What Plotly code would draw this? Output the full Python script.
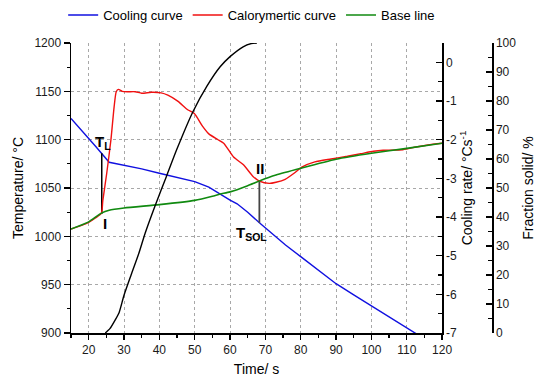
import plotly.graph_objects as go

# ---------------- data ----------------
# Cooling curve (temperature, °C) vs time (s)
cool_t = [15, 18, 20, 22, 25.8, 30, 35, 40, 45, 50, 54, 57, 60, 62, 65, 68.3, 72, 75.7,
          80, 85, 90, 95, 100, 105, 110, 112.3, 113]
cool_T = [1122, 1110, 1101.5, 1093, 1076.6, 1073.8, 1069.8, 1065.3, 1061, 1056.6, 1051, 1044,
          1037.5, 1033.7, 1025, 1014, 1002.5, 991, 979, 965, 951, 939.5, 928, 916.5, 905, 900, 898.5]

# Calorimetric curve (cooling rate, °C/s)
cal_t = [15, 18, 20, 22, 23.6, 24.0, 25.1, 26.3, 27.2, 27.8, 28.4, 29.5, 31, 33.2, 35, 37.8,
         40.5, 42.4, 45.3, 48, 49.9, 52.2, 54, 56.4, 58.2, 61, 63.8, 66.5, 68.3, 71.1, 73,
         75.6, 78.4, 80.3, 84, 88.6, 93.2, 97, 100.6, 103.3, 108.9, 112.6, 116, 120]
cal_r = [-4.31, -4.215, -4.14, -4.02, -3.9, -3.575, -2.875, -2.0, -1.15, -0.76, -0.70, -0.75,
         -0.76, -0.76, -0.80, -0.775, -0.79, -0.85, -1.01, -1.225, -1.325, -1.65, -1.85, -1.99,
         -2.09, -2.45, -2.65, -2.95, -3.07, -3.13, -3.10, -3.025, -2.85, -2.71, -2.575, -2.5,
         -2.43, -2.3625, -2.3, -2.275, -2.26, -2.19, -2.1375, -2.0925]

# Base line (cooling rate, °C/s)
base_t = [15, 20, 23.6, 25.8, 30, 40, 50, 55, 57.2, 60, 65, 68.3, 73, 80, 90, 100, 110, 120]
base_r = [-4.31, -4.125, -3.9, -3.825, -3.7675, -3.68, -3.57, -3.4625, -3.4075, -3.35, -3.19,
          -3.0675, -2.915, -2.74, -2.5075, -2.3525, -2.225, -2.0925]

# Fraction solid (%)
fs_t = [24.7, 26, 27.5, 28.6, 30, 32, 34.2, 36, 38.8, 42, 45, 49.5, 53.5, 57.2, 60, 63.7, 66, 67.6]
fs_v = [0, 1.5, 4.5, 7, 13, 20, 27.5, 34.5, 43.9, 54, 63.5, 76.3, 85.2, 91.8, 95.3, 98.7, 99.8, 100]

# Marker lines (T_L and T_SOL)
tl_x = [23.7, 23.7]
tl_T = [1023.2, 1086]
tsol_x = [68.3, 68.3]
tsol_T = [1014, 1057.3]

# Point labels
label_text = ["<b>T<sub>L</sub></b>", "<b>I</b>", "<b>II</b>", "<b>T<sub>SOL</sub></b>"]
label_x = [24.0, 24.7, 68.6, 66.0]
label_T = [1097, 1012.8, 1070, 1003]

# Axis ticks
x_ticks = [20, 30, 40, 50, 60, 70, 80, 90, 100, 110, 120]
temp_ticks = [900, 950, 1000, 1050, 1100, 1150, 1200]
rate_ticks = [-7, -6, -5, -4, -3, -2, -1, 0]
rate_text = ["-7", "-6", "-5", "-4", "-3", "-2", "-1", "0"]
fs_ticks = [0, 10, 20, 30, 40, 50, 60, 70, 80, 90, 100]

# ---------------- figure ----------------
FONT = "Liberation Sans, Arial, sans-serif"
W, H = 550, 384
ML, MR, MT, MB = 71, 0, 43, 51
pw = W - ML - MR
ph = H - MT - MB
dom_right = (450 - ML) / pw
fs_pos = (501 - ML) / pw

fig = go.Figure()
fig.add_trace(go.Scatter(x=cool_t, y=cool_T, mode="lines", name="Cooling curve",
                         line=dict(color="#1010e0", width=1.4), yaxis="y"))
fig.add_trace(go.Scatter(x=cal_t, y=cal_r, mode="lines", name="Calorymertic curve",
                         line=dict(color="#f01010", width=1.4, shape="spline", smoothing=0.6),
                         yaxis="y2"))
fig.add_trace(go.Scatter(x=base_t, y=base_r, mode="lines", name="Base line",
                         line=dict(color="#108a10", width=1.6, shape="spline", smoothing=0.6),
                         yaxis="y2"))
fig.add_trace(go.Scatter(x=fs_t, y=fs_v, mode="lines", showlegend=False,
                         line=dict(color="#000000", width=1.4, shape="spline", smoothing=0.6),
                         yaxis="y3"))
fig.add_trace(go.Scatter(x=tl_x, y=tl_T, mode="lines", showlegend=False,
                         line=dict(color="#000000", width=1.5), yaxis="y"))
fig.add_trace(go.Scatter(x=tsol_x, y=tsol_T, mode="lines", showlegend=False,
                         line=dict(color="#444444", width=1.8), yaxis="y"))

for txt, lx, ly in zip(label_text, label_x, label_T):
    fig.add_annotation(x=lx, y=ly, xref="x", yref="y", text=txt, showarrow=False,
                       font=dict(family=FONT, size=15, color="#000000"),
                       xanchor="center", yanchor="middle")

grid = dict(showgrid=True, gridcolor="#a8a8a8", griddash="dot", gridwidth=1)
tickfont = dict(family=FONT, size=12, color="#1a1a1a")
titlefont = dict(family=FONT, size=14, color="#000000")

fig.update_layout(
    width=W, height=H,
    margin=dict(l=ML, r=MR, t=MT, b=MB, pad=0),
    paper_bgcolor="white", plot_bgcolor="white",
    font=dict(family=FONT, color="#000000"),
    hovermode=False,
    legend=dict(orientation="h", x=(63 - ML) / pw, xanchor="left",
                y=1 + MT / ph, yanchor="top",
                font=dict(family=FONT, size=13, color="#000000"),
                bgcolor="rgba(0,0,0,0)", itemwidth=30, tracegroupgap=0),
    xaxis=dict(domain=[0, dom_right], range=[15, 120], tickvals=x_ticks,
               ticks="outside", ticklen=5, tickwidth=1.3, tickcolor="#000",
               minor=dict(dtick=5, tick0=0, ticks="outside", ticklen=3, tickcolor="#000", showgrid=False),
               showline=True, linecolor="#000", linewidth=1.5, zeroline=False,
               tickfont=tickfont, title=dict(text="Time/ s", font=titlefont, standoff=8),
               **grid),
    yaxis=dict(range=[900, 1200], tickvals=temp_ticks, ticks="outside", ticklen=6,
               tickwidth=1.3, tickcolor="#000",
               minor=dict(dtick=25, tick0=900, ticks="outside", ticklen=3, tickcolor="#000", showgrid=False),
               showline=True, linecolor="#000", linewidth=1.5, zeroline=False,
               tickfont=tickfont,
               title=dict(text="Temperature/ °C", font=titlefont, standoff=7),
               **grid),
    yaxis2=dict(range=[-7, 0.5], overlaying="y", side="right", anchor="x",
                tickvals=rate_ticks, ticktext=rate_text, ticks="inside", ticklen=6,
                tickwidth=1.3, tickcolor="#000",
                minor=dict(dtick=0.5, tick0=0, ticks="inside", ticklen=4, tickcolor="#000", showgrid=False),
                showline=True, linecolor="#000", linewidth=1.5, zeroline=False, showgrid=False,
                tickfont=tickfont,
                title=dict(text="Cooling rate/ °Cs<sup>-1</sup>", font=titlefont, standoff=6)),
    yaxis3=dict(range=[0, 100], overlaying="y", side="right", anchor="free", position=fs_pos,
                tickvals=fs_ticks, ticks="inside", ticklen=6, tickwidth=1.3, tickcolor="#000",
                minor=dict(dtick=5, tick0=0, ticks="inside", ticklen=4, tickcolor="#000", showgrid=False),
                showline=True, linecolor="#000", linewidth=1.5, zeroline=False, showgrid=False,
                tickfont=tickfont,
                title=dict(text="Fraction solid/ %", font=titlefont, standoff=8)),
)

fig.write_html(
    "out.html",
    config={"displayModeBar": False, "staticPlot": True},
    post_script="document.body.style.margin='0px';document.body.style.overflow='hidden';",
)
